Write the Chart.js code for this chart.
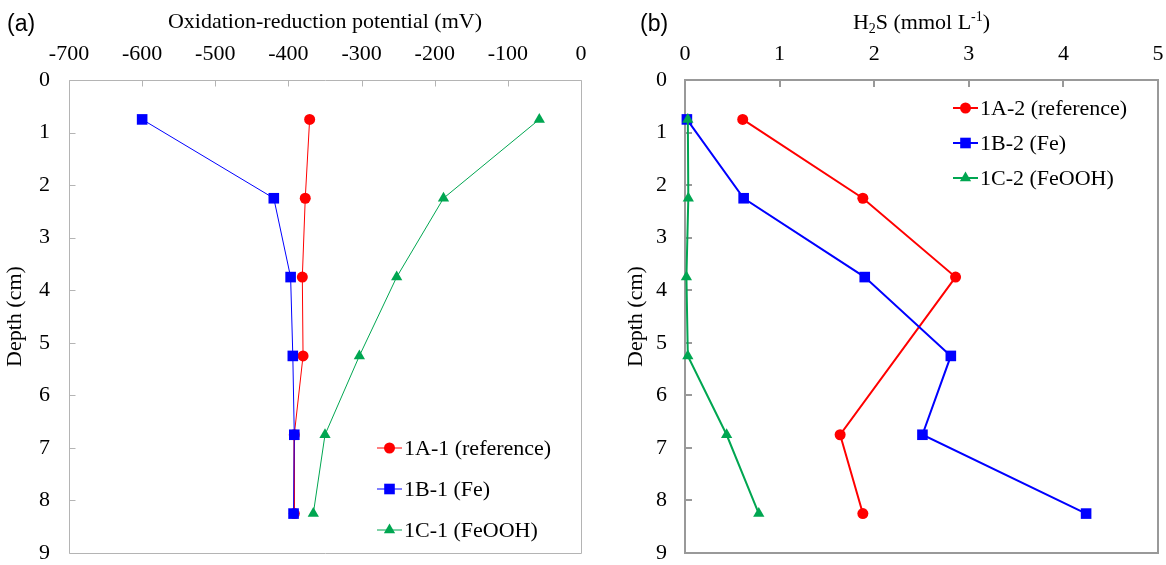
<!DOCTYPE html>
<html><head><meta charset="utf-8">
<script src="https://cdn.jsdelivr.net/npm/chart.js@4/dist/chart.umd.min.js"></script>
<style>
html,body{margin:0;padding:0;background:#fff;}
#wrap{position:relative;width:1166px;height:565px;overflow:hidden;background:#fff;}
#c1{position:absolute;left:0;top:0;width:600px;height:565px;}
#c2{position:absolute;left:600px;top:0;width:566px;height:565px;}
.lab{position:absolute;font-family:"Liberation Sans",Arial,sans-serif;font-size:23px;line-height:26px;color:#000;}
</style></head><body>
<div id="wrap">
<canvas id="c1" width="600" height="565"></canvas>
<canvas id="c2" width="566" height="565"></canvas>
<div class="lab" style="left:7px;top:10px">(a)</div>
<div class="lab" style="left:640px;top:10px">(b)</div>
</div>
<script>
// ---- data ----
const depths = [0.75, 2.25, 3.75, 5.25, 6.75, 8.25];
const orpNames = ['1A-1 (reference)', '1B-1 (Fe)', '1C-1 (FeOOH)'];
const orpA = [-371, -377, -381, -380, -392, -392];
const orpB = [-600, -420, -397, -394, -392, -393];
const orpC = [-57, -188, -252, -303, -350, -366];
const h2sNames = ['1A-2 (reference)', '1B-2 (Fe)', '1C-2 (FeOOH)'];
const h2sA = [0.61, 1.88, 2.86, null, 1.64, 1.88];
const h2sB = [0.02, 0.62, 1.90, 2.81, 2.51, 4.24];
const h2sC = [0.03, 0.035, 0.015, 0.03, 0.44, 0.78];
const orpRange = [-700, 0];
const h2sRange = [0, 5];
const depthRange = [0, 9];
const orpTitle = 'Oxidation-reduction potential (mV)';
const h2sTitleParts = [['H', 0], ['2', 1], ['S (mmol L', 0], ['-1', -1], [')', 0]];
const depthTitle = 'Depth (cm)';

const RED = '#ff0000', BLUE = '#0000ff', GREEN = '#00a651';
const SERIF = '"Liberation Serif","Times New Roman",serif';

function pts(vals) {
  return vals.map((v, i) => ({x: v, y: depths[i]})).filter(p => p.x !== null);
}

const framePlugin = {
  id: 'frame',
  beforeDatasetsDraw(chart, args, o) {
    const {ctx, chartArea: a, scales} = chart;
    ctx.save();
    ctx.strokeStyle = o.color;
    ctx.lineWidth = o.width;
    const off = o.width % 2 ? 0.5 : 0;
    const L = Math.round(a.left) + off, T = Math.round(a.top) + off;
    const R = Math.round(a.right) + off, B = Math.round(a.bottom) + off;
    ctx.beginPath();
    ctx.rect(L, T, R - L, B - T);
    scales.x.ticks.forEach(t => {
      const px = Math.round(scales.x.getPixelForValue(t.value)) + off;
      ctx.moveTo(px, T); ctx.lineTo(px, T + o.tick);
    });
    scales.y.ticks.forEach(t => {
      const py = Math.round(scales.y.getPixelForValue(t.value)) + off;
      ctx.moveTo(L, py); ctx.lineTo(L + o.tick, py);
    });
    ctx.stroke();
    ctx.restore();
  }
};

const richTitlePlugin = {
  id: 'richtitle',
  afterDraw(chart, args, o) {
    if (!o.parts) return;
    const ctx = chart.ctx, a = chart.chartArea;
    const big = '22px ' + SERIF, small = '14px ' + SERIF;
    ctx.save();
    ctx.fillStyle = '#000';
    ctx.textBaseline = 'alphabetic';
    ctx.textAlign = 'left';
    let w = 0;
    o.parts.forEach(([t, s]) => { ctx.font = s ? small : big; w += ctx.measureText(t).width; });
    let x = (a.left + a.right) / 2 - w / 2;
    o.parts.forEach(([t, s]) => {
      ctx.font = s ? small : big;
      const dy = s === 1 ? 4 : (s === -1 ? -8 : 0);
      ctx.fillText(t, x, o.baseline + dy);
      x += ctx.measureText(t).width;
    });
    ctx.restore();
  }
};

const legendPlugin = {
  id: 'inlegend',
  afterDatasetsDraw(chart, args, o) {
    const ctx = chart.ctx;
    ctx.save();
    chart.data.datasets.forEach((ds, i) => {
      const y = o.y + i * o.gap;
      ctx.strokeStyle = ds.borderColor;
      ctx.lineWidth = ds.borderWidth;
      ctx.beginPath();
      ctx.moveTo(o.x, y); ctx.lineTo(o.x + o.len, y);
      ctx.stroke();
      ctx.fillStyle = ds.pointBackgroundColor;
      ctx.strokeStyle = ds.pointBorderColor;
      Chart.helpers.drawPoint(ctx, {pointStyle: ds.pointStyle, radius: ds.pointRadius, rotation: 0, borderWidth: 0}, o.x + o.len / 2, y);
      ctx.fillStyle = '#000';
      ctx.font = '22px ' + SERIF;
      ctx.textBaseline = 'middle';
      ctx.textAlign = 'left';
      ctx.fillText(ds.label, o.x + o.len + 2, y + 1);
    });
    ctx.restore();
  }
};

function ds(label, vals, color, style, radius, lw, order) {
  return {
    label, data: pts(vals), borderColor: color, backgroundColor: color,
    pointBackgroundColor: color, pointBorderColor: color, pointBorderWidth: 0,
    pointStyle: style, pointRadius: radius, pointHoverRadius: radius,
    borderWidth: lw, showLine: true, clip: false, tension: 0, order
  };
}

function makeChart(id, cfg) {
  return new Chart(document.getElementById(id), {
    type: 'scatter',
    data: {datasets: cfg.datasets},
    plugins: [framePlugin, legendPlugin, richTitlePlugin],
    options: {
      responsive: false, animation: false, devicePixelRatio: 1,
      layout: {padding: cfg.padding},
      events: [],
      plugins: {
        legend: {display: false}, tooltip: {enabled: false},
        frame: cfg.frame, inlegend: cfg.legend, richtitle: cfg.rich || {}
      },
      scales: {
        x: {
          type: 'linear', position: 'top', min: cfg.xRange[0], max: cfg.xRange[1],
          afterFit: s => { s.height = 80; s.paddingLeft = 0; s.paddingRight = 0; },
          grid: {display: false, drawTicks: false}, border: {display: false},
          ticks: {stepSize: cfg.xStep, padding: 13, color: '#000', font: {family: SERIF, size: 22}, maxRotation: 0},
          title: {display: !!cfg.xTitle, text: cfg.xTitle || '', color: '#000', font: {family: SERIF, size: 22}, padding: {top: 8.8, bottom: 0}}
        },
        y: {
          type: 'linear', reverse: true, min: depthRange[0], max: depthRange[1],
          afterFit: s => { s.width = cfg.yWidth; s.paddingTop = 0; s.paddingBottom = 0; },
          grid: {display: false, drawTicks: false}, border: {display: false},
          ticks: {stepSize: 1, padding: cfg.yTickPad, color: '#000', font: {family: SERIF, size: 22}},
          title: {display: true, text: depthTitle, color: '#000', font: {family: SERIF, size: 22}, padding: {top: cfg.yTitlePad, bottom: 0}}
        }
      }
    }
  });
}

makeChart('c1', {
  datasets: [
    ds(orpNames[0], orpA, RED, 'circle', 5.5, 1, 2),
    ds(orpNames[1], orpB, BLUE, 'rect', 7.5, 1, 1),
    ds(orpNames[2], orpC, GREEN, 'triangle', 6.5, 1, 0)
  ],
  padding: {left: 0, top: 0, right: 19, bottom: 12},
  xRange: orpRange, xStep: 100, xTitle: orpTitle,
  yWidth: 69, yTickPad: 19, yTitlePad: 2,
  frame: {color: '#b4b4b4', width: 1, tick: 6},
  legend: {x: 377, y: 448, gap: 41, len: 25}
});

makeChart('c2', {
  datasets: [
    ds(h2sNames[0], h2sA, RED, 'circle', 5.5, 2, 2),
    ds(h2sNames[1], h2sB, BLUE, 'rect', 7.5, 2, 1),
    ds(h2sNames[2], h2sC, GREEN, 'triangle', 6.5, 2, 0)
  ],
  padding: {left: 0, top: 0, right: 8, bottom: 12},
  xRange: h2sRange, xStep: 1, xTitle: null,
  rich: {parts: h2sTitleParts, baseline: 29},
  yWidth: 85, yTickPad: 18, yTitlePad: 23,
  frame: {color: '#999999', width: 2, tick: 7},
  legend: {x: 353, y: 108, gap: 35, len: 25}
});
</script>
</body></html>
